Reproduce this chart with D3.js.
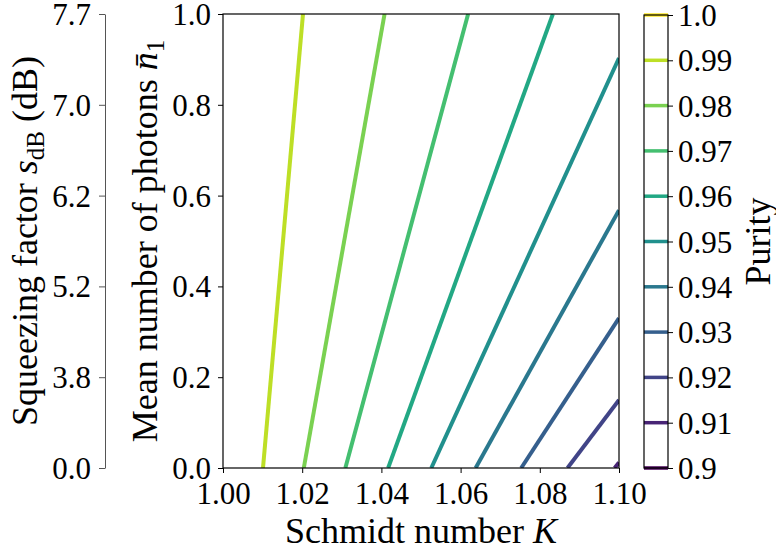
<!DOCTYPE html>
<html lang="en">
<head>
  <meta charset="UTF-8">
  <title>Purity contours</title>
  <script src="https://d3js.org/d3.v7.min.js"></script>
  <style>
    body { margin: 0; background: #fff; }
    svg text { font-family: "Liberation Serif", "DejaVu Serif", serif; fill: #000; }
    .tick text { font-size: 31px; }
    .axis-label { font-size: 36px; }
  </style>
</head>
<body>
  <svg width="776" height="554"></svg>

  <script>
    // contour levels: each line is straight,
    // from (kStart, n=0) up to (kEnd, nEnd)
    const levels = [0.99, 0.98, 0.97, 0.96, 0.95, 0.94, 0.93, 0.92, 0.91];
    const kStart = [1.0101, 1.0204, 1.0309, 1.0417, 1.0526, 1.0638, 1.0753, 1.0870, 1.0989];
    const kEnd   = [1.0202, 1.0408, 1.0619, 1.0833, 1.10, 1.10, 1.10, 1.10, 1.10];
    const nEnd   = [1.0, 1.0, 1.0, 1.0, 0.903, 0.568, 0.330, 0.150, 0.012];

    const xTicks = [1.00, 1.02, 1.04, 1.06, 1.08, 1.10];
    const yTicks = [0.0, 0.2, 0.4, 0.6, 0.8, 1.0];
    const sdbLabels = ["0.0", "3.8", "5.2", "6.2", "7.0", "7.7"];
    const cbTicks = [0.90, 0.91, 0.92, 0.93, 0.94, 0.95, 0.96, 0.97, 0.98, 0.99, 1.00];
    const cbLabels = ["0.9", "0.91", "0.92", "0.93", "0.94", "0.95", "0.96", "0.97", "0.98", "0.99", "1.0"];

    const svg = d3.select("svg");

    // plot box
    const pLeft = 223, pRight = 619, pTop = 14, pBottom = 468;
    const x = d3.scaleLinear().domain([1.0, 1.1]).range([pLeft, pRight]);
    const y = d3.scaleLinear().domain([0, 1]).range([pBottom, pTop]);
    const color = d3.scaleSequential(d3.interpolateViridis).domain([0.9, 1.0]);

    svg.append("clipPath").attr("id", "plotclip")
      .append("rect")
        .attr("x", pLeft).attr("y", pTop)
        .attr("width", pRight - pLeft).attr("height", pBottom - pTop);

    // contour lines
    const contours = levels.map((lv, i) => ({
      level: lv,
      pts: [[kStart[i], 0], [kEnd[i], nEnd[i]]]
    }));
    svg.append("g")
      .attr("clip-path", "url(#plotclip)")
      .selectAll("path")
      .data(contours)
      .join("path")
        .attr("d", d => d3.line().x(p => x(p[0])).y(p => y(p[1]))(d.pts))
        .attr("fill", "none")
        .attr("stroke", d => color(d.level))
        .attr("stroke-width", 4);

    // frame
    svg.append("rect")
      .attr("x", pLeft).attr("y", pTop)
      .attr("width", pRight - pLeft).attr("height", pBottom - pTop)
      .attr("fill", "none").attr("stroke", "#000").attr("stroke-width", 1.2);

    // x axis
    const gx = svg.append("g")
      .attr("transform", `translate(0,${pBottom})`)
      .call(d3.axisBottom(x).tickValues(xTicks).tickFormat(d3.format(".2f")).tickSize(5).tickPadding(9));
    gx.select(".domain").remove();

    // y axis (photons)
    const gy = svg.append("g")
      .attr("transform", `translate(${pLeft},0)`)
      .call(d3.axisLeft(y).tickValues(yTicks).tickFormat(d3.format(".1f")).tickSize(5).tickPadding(7));
    gy.select(".domain").remove();
    gy.selectAll(".tick text").attr("dy", "0.34em");

    // secondary y axis (squeezing in dB), same positions as photon ticks
    const sx = 105;
    const gs = svg.append("g")
      .attr("transform", `translate(${sx},0)`)
      .call(d3.axisLeft(y).tickValues(yTicks).tickFormat((d, i) => sdbLabels[i]).tickSize(6).tickPadding(8).tickSizeOuter(0));
    gs.select(".domain").attr("stroke", "#555");
    gs.selectAll(".tick line").attr("stroke", "#555");
    gs.selectAll(".tick text").attr("dy", "0.34em");

    // x label
    const xl = svg.append("text")
      .attr("class", "axis-label")
      .attr("x", (pLeft + pRight) / 2).attr("y", 543)
      .attr("text-anchor", "middle");
    xl.append("tspan").text("Schmidt number ");
    xl.append("tspan").attr("font-style", "italic").text("K");

    // y label
    const yl = svg.append("text")
      .attr("class", "axis-label")
      .attr("transform", `translate(157,${(pTop + pBottom) / 2}) rotate(-90)`)
      .attr("text-anchor", "middle");
    yl.append("tspan").text("Mean number of photons ");
    yl.append("tspan").attr("font-style", "italic").text("n\u0304");
    yl.append("tspan").attr("font-size", "25px").attr("dy", "7").text("1");

    // squeezing label
    const sl = svg.append("text")
      .attr("class", "axis-label")
      .attr("transform", `translate(37,${(pTop + pBottom) / 2}) rotate(-90)`)
      .attr("text-anchor", "middle");
    sl.append("tspan").text("Squeezing factor ");
    sl.append("tspan").attr("font-style", "italic").text("s");
    sl.append("tspan").attr("font-size", "25px").attr("dy", "7").text("dB");
    sl.append("tspan").attr("dy", "-7").text(" (dB)");

    // colorbar
    const cbLeft = 644, cbRight = 668, cbTop = 15, cbBottom = 468;
    const cy = d3.scaleLinear().domain([0.9, 1.0]).range([cbBottom, cbTop]);

    svg.append("g")
      .selectAll("line")
      .data(cbTicks)
      .join("line")
        .attr("x1", cbLeft).attr("x2", cbRight)
        .attr("y1", d => cy(d)).attr("y2", d => cy(d))
        .attr("stroke", d => color(d))
        .attr("stroke-width", 3.5);

    svg.append("rect")
      .attr("x", cbLeft).attr("y", cbTop)
      .attr("width", cbRight - cbLeft).attr("height", cbBottom - cbTop)
      .attr("fill", "none").attr("stroke", "#000").attr("stroke-width", 1.2);

    const gc = svg.append("g")
      .attr("transform", `translate(${cbRight},0)`)
      .call(d3.axisRight(cy).tickValues(cbTicks).tickFormat((d, i) => cbLabels[i]).tickSize(5).tickPadding(5));
    gc.select(".domain").remove();
    gc.selectAll(".tick text").attr("dy", "0.34em");

    svg.append("text")
      .attr("class", "axis-label")
      .attr("transform", `translate(770,${(cbTop + cbBottom) / 2}) rotate(-90)`)
      .attr("text-anchor", "middle")
      .text("Purity");
  </script>
</body>
</html>
